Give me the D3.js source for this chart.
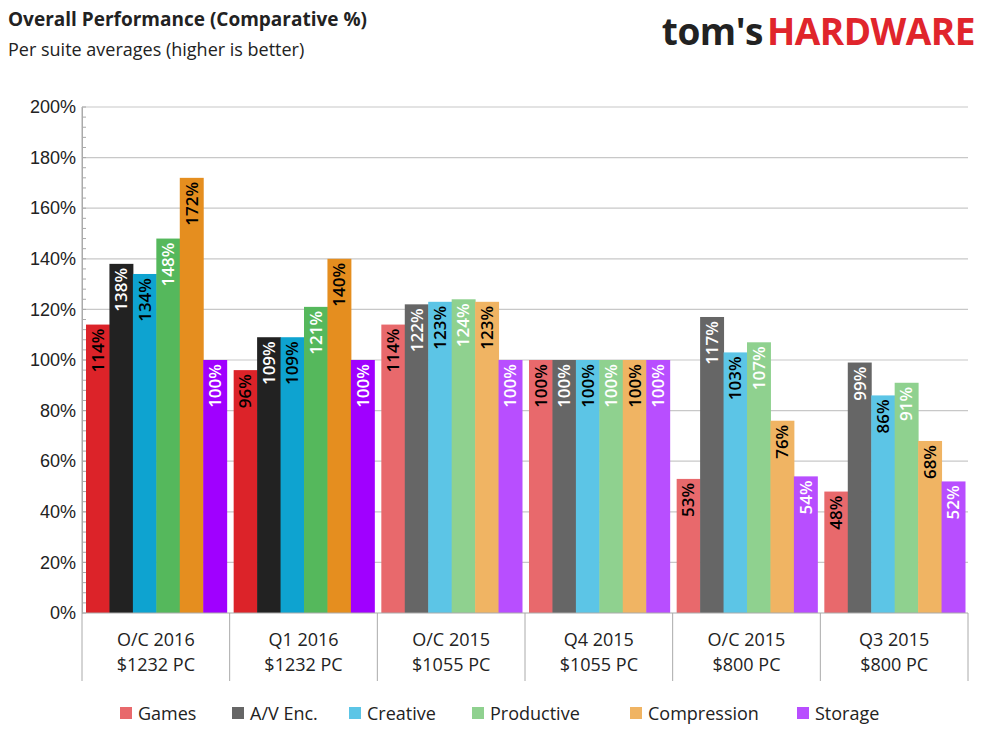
<!DOCTYPE html>
<html><head><meta charset="utf-8">
<script src="https://cdn.jsdelivr.net/npm/d3@7"></script>
<style>body{margin:0;background:#fff;font-family:"Open Sans","DejaVu Sans",sans-serif;}</style>
</head><body><div class="chart"></div>
<script>
var groups = [["O/C 2016", "$1232 PC"], ["Q1 2016", "$1232 PC"], ["O/C 2015", "$1055 PC"], ["Q4 2015", "$1055 PC"], ["O/C 2015", "$800 PC"], ["Q3 2015", "$800 PC"]];
var suites = ["Games", "A/V Enc.", "Creative", "Productive", "Compression", "Storage"];
var values = [
  [114, 138, 134, 148, 172, 100],
  [96, 109, 109, 121, 140, 100],
  [114, 122, 123, 124, 123, 100],
  [100, 100, 100, 100, 100, 100],
  [53, 117, 103, 107, 76, 54],
  [48, 99, 86, 91, 68, 52]
];
var strongColors = ["#dc2329", "#222222", "#0ea3d0", "#55b85c", "#e58e1f", "#a000ff"];
var softColors = ["#e8696c", "#666666", "#5cc5e6", "#8fd18f", "#f0b463", "#b84eff"];
var labelInk = ["#000", "#fff", "#000", "#fff", "#000", "#fff"];
var yTicks = [0, 20, 40, 60, 80, 100, 120, 140, 160, 180, 200];

var svgWidth = 989, svgHeight = 741;
var margin = {top: 107, right: 21, bottom: 128, left: 82};
var width = svgWidth - margin.left - margin.right;
var height = svgHeight - margin.top - margin.bottom;

var svg = d3.select(".chart").append("svg")
  .attr("width", svgWidth).attr("height", svgHeight);

// header
svg.append("text").attr("x", 8).attr("y", 26).attr("font-size", 19).attr("font-weight", "bold")
  .attr("fill", "#222").text("Overall Performance (Comparative %)");
svg.append("text").attr("x", 8).attr("y", 56).attr("font-size", 18)
  .attr("fill", "#222").text("Per suite averages (higher is better)");
var logo = svg.append("text").attr("x", 975).attr("y", 45).attr("text-anchor", "end")
  .attr("font-size", 37).attr("font-weight", "bold").attr("letter-spacing", -0.5);
logo.append("tspan").attr("fill", "#222").text("tom's");
logo.append("tspan").attr("fill", "#e0252c").attr("dx", 4).text("HARDWARE");

var g = svg.append("g").attr("transform", `translate(${margin.left},${margin.top})`);

var x0 = d3.scaleBand().domain(d3.range(groups.length)).range([0, width]);
var x1 = d3.scaleBand().domain(d3.range(suites.length)).range([4, x0.bandwidth() - 3]);
var y = d3.scaleLinear().domain([0, 200]).range([height, 0]);

g.selectAll(".grid").data(yTicks.slice(1)).enter().append("line")
  .attr("x1", 0).attr("x2", width).attr("y1", d => y(d)).attr("y2", d => y(d))
  .attr("stroke", "#c8c8c8").attr("stroke-width", 1.2);

// minor ticks
g.selectAll(".minor").data(d3.range(0, 201, 4)).enter().append("line")
  .attr("x1", 0).attr("x2", 4).attr("y1", d => y(d)).attr("y2", d => y(d))
  .attr("stroke", "#aaa");

var yAxis = g.append("g").call(d3.axisLeft(y).tickValues(yTicks).tickSize(0).tickPadding(6).tickFormat(d => d + "%"));
yAxis.select(".domain").attr("stroke", "#aaa");
yAxis.selectAll("text").attr("font-size", 18).attr("fill", "#222");

var gg = g.selectAll(".grp").data(values).enter().append("g")
  .attr("transform", (d, i) => `translate(${x0(i)},0)`);

gg.each(function(row, gi) {
  var sel = d3.select(this);
  var cols = gi < 2 ? strongColors : softColors;
  sel.selectAll("rect").data(row).enter().append("rect")
    .attr("x", (d, i) => x1(i)).attr("width", x1.bandwidth() + 0.5)
    .attr("y", d => y(d)).attr("height", d => height - y(d))
    .attr("fill", (d, i) => cols[i]);
  sel.selectAll(".lbl").data(row).enter().append("text")
    .attr("transform", (d, i) => `translate(${x1(i) + x1.bandwidth() / 2 + 6},${y(d) + 4}) rotate(-90)`)
    .attr("text-anchor", "end").attr("font-size", 17).attr("font-weight", 600)
    .attr("fill", (d, i) => labelInk[i]).text(d => d + "%");
});

// x axis
g.append("line").attr("x1", 0).attr("x2", width).attr("y1", height).attr("y2", height).attr("stroke", "#aaa");
g.selectAll(".sep").data(d3.range(groups.length + 1)).enter().append("line")
  .attr("x1", i => i * x0.bandwidth()).attr("x2", i => i * x0.bandwidth())
  .attr("y1", 0).attr("y2", height + 68).attr("stroke", "#c8c8c8")
  .attr("y1", (i) => i === 0 ? 0 : height).attr("stroke", "#aaa");
g.selectAll(".xl").data(groups).enter().append("text")
  .attr("x", (d, i) => x0(i) + x0.bandwidth() / 2).attr("y", height + 33)
  .attr("text-anchor", "middle").attr("font-size", 18).attr("fill", "#222")
  .each(function(d) {
    d3.select(this).append("tspan").attr("x", d3.select(this).attr("x")).text(d[0]);
    d3.select(this).append("tspan").attr("x", d3.select(this).attr("x")).attr("dy", 25).text(d[1]);
  });

// legend
var legendX = [120, 232, 349, 472, 630, 797];
var lg = svg.selectAll(".leg").data(suites).enter().append("g")
  .attr("transform", (d, i) => `translate(${legendX[i]},720)`);
lg.append("rect").attr("x", 0).attr("y", -13).attr("width", 12).attr("height", 12).attr("fill", (d, i) => softColors[i]);
lg.append("text").attr("x", 18).attr("y", 0).attr("font-size", 18).attr("fill", "#222").text(d => d);
</script></body></html>
